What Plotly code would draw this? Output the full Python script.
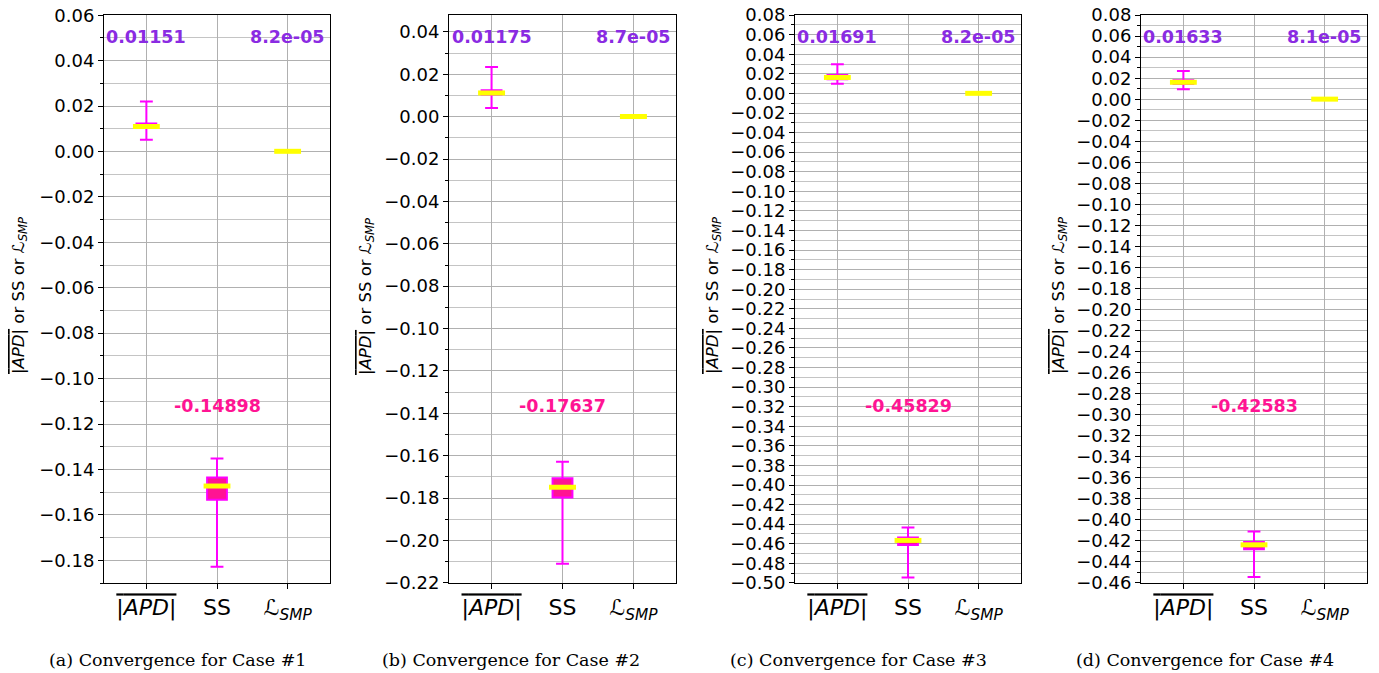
import plotly.graph_objects as go

# ---- data ----
categories = ["APD", "SS", "LSMP"]
case_labels = ["(a) Convergence for Case #1", "(b) Convergence for Case #2",
               "(c) Convergence for Case #3", "(d) Convergence for Case #4"]

# box statistics per case: [APD, SS, LSMP]
lowerfence = [[0.0052, -0.1828, 0.00000],
              [0.0041, -0.2110, 0.00000],
              [0.0098, -0.4944, 0.00000],
              [0.0094, -0.4545, 0.00000]]
q1 = [[0.0105, -0.1533, 0.00005],
      [0.0105, -0.1797, 0.00005],
      [0.0145, -0.4614, 0.00005],
      [0.0145, -0.4279, 0.00005]]
median = [[0.0110, -0.1473, 0.00008],
          [0.0112, -0.1749, 0.00009],
          [0.0163, -0.4566, 0.00008],
          [0.0161, -0.4238, 0.00008]]
q3 = [[0.0123, -0.1436, 0.00010],
      [0.0125, -0.1706, 0.00011],
      [0.0187, -0.4535, 0.00010],
      [0.0180, -0.4210, 0.00010]]
upperfence = [[0.0220, -0.1352, 0.00015],
              [0.0235, -0.1629, 0.00016],
              [0.0299, -0.4433, 0.00015],
              [0.0268, -0.4112, 0.00015]]

apd_mean = [0.01151, 0.01175, 0.01691, 0.01633]
ss_mean = [-0.14898, -0.17637, -0.45829, -0.42583]
lsmp_mean = [8.2e-05, 8.7e-05, 8.2e-05, 8.1e-05]

y_ranges = [[-0.19, 0.0601], [-0.2201, 0.048], [-0.5001, 0.0801], [-0.4601, 0.0801]]

tick_text = ["<span style='text-decoration:overline'>|<i>APD</i>|</span>",
             "SS",
             "ℒ<sub><i>SMP</i></sub>"]
ytitle = ("<span style='text-decoration:overline'>|<i>APD</i>|</span> or SS or "
          "ℒ<sub><i>SMP</i></sub>")

# ---- layout geometry (window pixels) ----
W, H = 1379, 673
OFF = 0  # page body margin is removed by the post script below
ax_left = [104, 449, 795, 1141]
ax_right = [330, 676, 1021, 1367]
ax_top, ax_bottom = 15, 583
ytitle_x = [19, 366, 713, 1059]
caption_x = [177, 511, 858, 1205]


def px(p):
    return (p - OFF) / W


def py(p):
    return 1 - (p - OFF) / H


fig = go.Figure()
layout = dict(width=W, height=H, margin=dict(l=0, r=0, t=0, b=0, autoexpand=False),
              plot_bgcolor="white", paper_bgcolor="white", showlegend=False,
              font=dict(family="DejaVu Sans", color="black"))
annotations = []
pos = list(range(len(categories)))

for k in range(4):
    xa = "x" if k == 0 else f"x{k+1}"
    ya = "y" if k == 0 else f"y{k+1}"
    fig.add_trace(go.Box(
        x=pos, q1=q1[k], median=median[k], q3=q3[k],
        lowerfence=lowerfence[k], upperfence=upperfence[k],
        xaxis=xa, yaxis=ya, width=0.28, whiskerwidth=0.65,
        fillcolor="#FF1493", line=dict(color="#FF00FF", width=2),
        boxpoints=False, hoverinfo="skip"))
    mx, my = [], []
    for i, m in zip(pos, median[k]):
        mx += [i - 0.19, i + 0.19, None]
        my += [m, m, None]
    fig.add_trace(go.Scatter(x=mx, y=my, mode="lines", xaxis=xa, yaxis=ya,
                             line=dict(color="#FFFF00", width=5), hoverinfo="skip"))

    xkey = "xaxis" if k == 0 else f"xaxis{k+1}"
    ykey = "yaxis" if k == 0 else f"yaxis{k+1}"
    layout[xkey] = dict(
        domain=[px(ax_left[k]), px(ax_right[k])], anchor=ya, automargin=False,
        range=[-0.6, 2.6], tickvals=pos, ticktext=tick_text,
        tickfont=dict(size=22, family="DejaVu Sans"),
        ticks="outside", ticklen=5, tickcolor="black",
        showgrid=True, gridcolor="#b0b0b0", gridwidth=1,
        showline=True, linecolor="black", linewidth=1, mirror=True,
        zeroline=False, fixedrange=True)
    layout[ykey] = dict(
        domain=[py(ax_bottom), py(ax_top)], anchor=xa, automargin=False,
        range=y_ranges[k], dtick=0.02, tick0=0, tickformat=".2f",
        tickfont=dict(size=18, family="DejaVu Sans"), ticklabeloverflow="allow",
        ticks="outside", ticklen=5, tickcolor="black",
        showgrid=True, gridcolor="#b0b0b0", gridwidth=1,
        minor=dict(dtick=0.01, tick0=0, ticks="outside", ticklen=3,
                   tickcolor="black", showgrid=True, gridcolor="#c4c4c4",
                   gridwidth=1),
        showline=True, linecolor="black", linewidth=1, mirror=True,
        zeroline=False, fixedrange=True)

    lab_font = dict(size=17.5, family="DejaVu Sans", color="#8A2BE2")
    annotations.append(dict(x=pos[0], y=0.961, xref=xa, yref=f"{ya} domain",
                            text=f"<b>{apd_mean[k]:.5f}</b>", showarrow=False,
                            font=lab_font, xanchor="center", yanchor="middle"))
    annotations.append(dict(x=pos[2], y=0.961, xref=xa, yref=f"{ya} domain",
                            text=f"<b>{lsmp_mean[k]:.1e}</b>", showarrow=False,
                            font=lab_font, xanchor="center", yanchor="middle"))
    annotations.append(dict(x=pos[1], y=0.312, xref=xa, yref=f"{ya} domain",
                            text=f"<b>{ss_mean[k]:.5f}</b>", showarrow=False,
                            font=dict(size=17.5, family="DejaVu Sans", color="#FF1493"),
                            xanchor="center", yanchor="middle"))
    annotations.append(dict(x=px(ytitle_x[k]), y=py(296), xref="paper", yref="paper",
                            text=ytitle, textangle=-90, showarrow=False,
                            font=dict(size=16.5, family="DejaVu Sans", color="black"),
                            xanchor="center", yanchor="middle"))
    annotations.append(dict(x=px(caption_x[k]), y=py(660), xref="paper", yref="paper",
                            text=case_labels[k], showarrow=False,
                            font=dict(size=17.5, family="DejaVu Serif", color="black"),
                            xanchor="center", yanchor="middle"))

layout["annotations"] = annotations
fig.update_layout(**layout)
fig.write_html("out.html", config={"displayModeBar": False},
               post_script="document.body.style.margin='0px';")
